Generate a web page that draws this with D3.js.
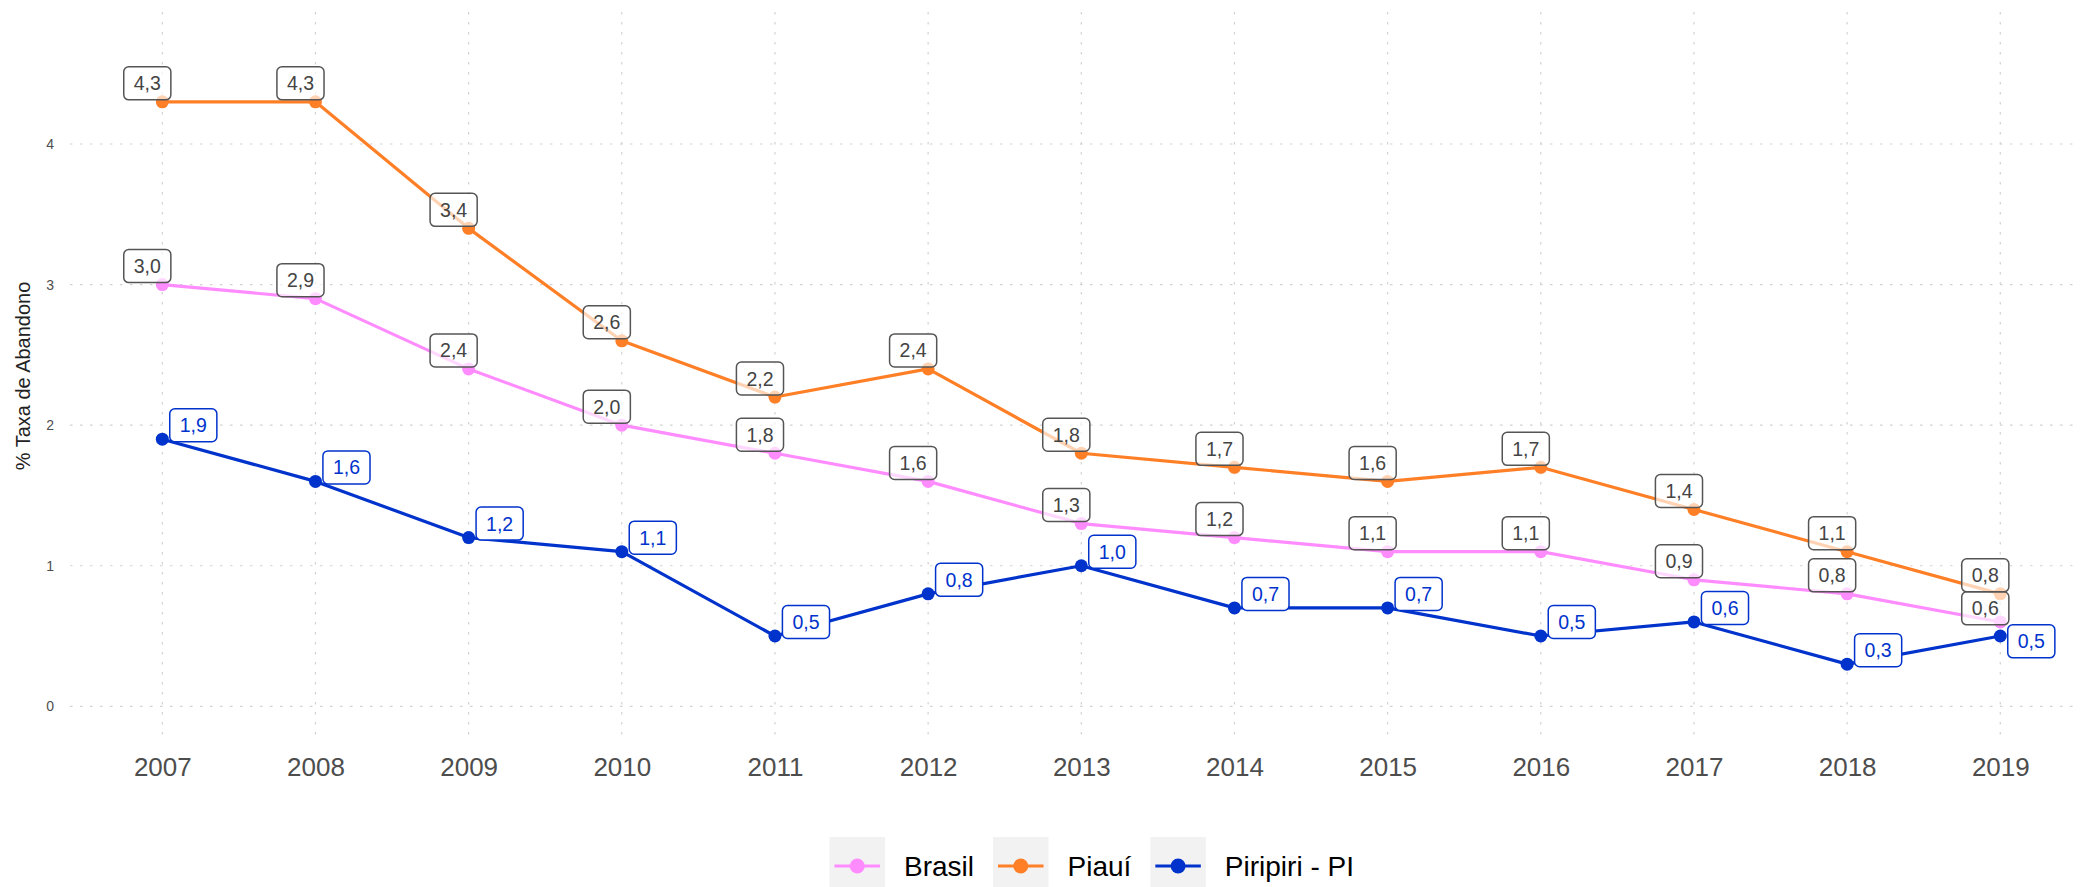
<!DOCTYPE html>
<html>
<head>
<meta charset="utf-8">
<script src="https://cdn.jsdelivr.net/npm/d3@7"></script>
<style>
  html, body { margin: 0; padding: 0; background: #ffffff; }
  svg { display: block; font-family: "Liberation Sans", Arial, Helvetica, sans-serif; }
</style>
</head>
<body>
<svg id="chart" width="2080" height="887"></svg>
<script>
// Taxa de abandono escolar (%) — Brasil, Piauí e Piripiri - PI
const years = [2007, 2008, 2009, 2010, 2011, 2012, 2013, 2014, 2015, 2016, 2017, 2018, 2019];
const brasil   = [3.0, 2.9, 2.4, 2.0, 1.8, 1.6, 1.3, 1.2, 1.1, 1.1, 0.9, 0.8, 0.6];
const piaui    = [4.3, 4.3, 3.4, 2.6, 2.2, 2.4, 1.8, 1.7, 1.6, 1.7, 1.4, 1.1, 0.8];
const piripiri = [1.9, 1.6, 1.2, 1.1, 0.5, 0.8, 1.0, 0.7, 0.7, 0.5, 0.6, 0.3, 0.5];
const seriesNames = ["Brasil", "Piauí", "Piripiri - PI"];
const yTicks = [0, 1, 2, 3, 4];
const yTitle = "% Taxa de Abandono";

const colors = { "Brasil": "#ff8cff", "Piauí": "#ff7f27", "Piripiri - PI": "#0033cc" };

const series = [
  { name: "Brasil", values: brasil, labelStyle: "plain" },
  { name: "Piauí", values: piaui, labelStyle: "plain" },
  { name: "Piripiri - PI", values: piripiri, labelStyle: "colored" }
];

const svg = d3.select("#chart");
const W = 2080, H = 887;
const panel = { left: 70, right: 2092, top: 12, bottom: 740 };

const x = d3.scaleLinear().domain([2007, 2019]).range([162.3, 2000.3]);
const y = d3.scaleLinear().domain([0, 4]).range([706.3, 144]);

const fmt = v => d3.format(".1f")(v).replace(".", ",");

// dotted grid
const grid = svg.append("g").attr("class", "grid");
grid.selectAll("line.h").data(yTicks).join("line")
  .attr("class", "h")
  .attr("x1", panel.left).attr("x2", W)
  .attr("y1", d => y(d)).attr("y2", d => y(d))
  .attr("stroke", "#d2d2d2").attr("stroke-width", 1.2)
  .attr("stroke-dasharray", "2.5,7.5");
grid.selectAll("line.v").data(years).join("line")
  .attr("class", "v")
  .attr("x1", d => x(d)).attr("x2", d => x(d))
  .attr("y1", panel.top).attr("y2", panel.bottom)
  .attr("stroke", "#d2d2d2").attr("stroke-width", 1.2)
  .attr("stroke-dasharray", "2.5,7.5");

// y axis
const yAxis = svg.append("g")
  .attr("transform", `translate(${panel.left - 16},0)`)
  .call(d3.axisLeft(y).tickValues(yTicks).tickFormat(d3.format("d")).tickSize(0).tickPadding(0));
yAxis.select(".domain").remove();
yAxis.selectAll("text")
  .attr("font-size", 14).attr("fill", "#4d4d4d")
  .attr("font-family", "Liberation Sans, Arial, sans-serif");

// x axis
const xAxis = svg.append("g")
  .attr("transform", `translate(0,${panel.bottom + 17.5})`)
  .call(d3.axisBottom(x).tickValues(years).tickFormat(d3.format("d")).tickSize(0).tickPadding(0));
xAxis.select(".domain").remove();
xAxis.selectAll("text")
  .attr("font-size", 26).attr("fill", "#4d4d4d")
  .attr("font-family", "Liberation Sans, Arial, sans-serif");

// y title
svg.append("text")
  .attr("transform", `translate(30,${(panel.top + panel.bottom) / 2}) rotate(-90)`)
  .attr("text-anchor", "middle")
  .attr("font-size", 20).attr("fill", "#222")
  .text(yTitle);

// lines and points
const line = d3.line().x((d, i) => x(years[i])).y(d => y(d));
const marks = svg.append("g");
series.forEach(s => {
  marks.append("path")
    .datum(s.values)
    .attr("d", line)
    .attr("fill", "none")
    .attr("stroke", colors[s.name])
    .attr("stroke-width", 3.2)
    .attr("stroke-linejoin", "round");
});
series.forEach(s => {
  marks.selectAll(null).data(s.values).join("circle")
    .attr("cx", (d, i) => x(years[i]))
    .attr("cy", d => y(d))
    .attr("r", 6.5)
    .attr("fill", colors[s.name]);
});

// value labels
const fontSize = 19.5;
const boxH = 33;
const measure = svg.append("text").attr("font-size", fontSize).attr("visibility", "hidden");
function textWidth(t) { measure.text(t); return measure.node().getComputedTextLength(); }

const labels = [];
series.forEach(s => {
  s.values.forEach((v, i) => {
    const t = fmt(v);
    const w = textWidth(t) + 20;
    const px = x(years[i]), py = y(v);
    const dx = s.labelStyle === "plain" ? -15 : 31;
    const dy = s.labelStyle === "plain" ? -18.5 : -14;
    labels.push({ text: t, w, h: boxH, cx: px + dx, cy: py + dy, style: s.labelStyle, color: colors[s.name] });
  });
});
measure.remove();

// simple overlap removal: stack overlapping labels downward
const placed = [];
labels.slice().sort((a, b) => a.cy - b.cy).forEach(l => {
  let moved = true;
  while (moved) {
    moved = false;
    for (const p of placed) {
      const ox = Math.abs(l.cx - p.cx) < (l.w + p.w) / 2;
      const oy = Math.abs(l.cy - p.cy) < (l.h + p.h) / 2;
      if (ox && oy) {
        l.cy = p.cy + (l.h + p.h) / 2;
        moved = true;
      }
    }
  }
  placed.push(l);
});

const lab = svg.append("g").selectAll("g").data(labels).join("g")
  .attr("transform", d => `translate(${d.cx},${d.cy})`);
lab.append("rect")
  .attr("x", d => -d.w / 2).attr("y", d => -d.h / 2)
  .attr("width", d => d.w).attr("height", d => d.h)
  .attr("rx", 5).attr("ry", 5)
  .attr("fill", "#ffffff")
  .attr("fill-opacity", d => d.style === "plain" ? 0.65 : 1)
  .attr("stroke", d => d.style === "plain" ? "#555555" : d.color)
  .attr("stroke-width", 1.5);
lab.append("text")
  .attr("text-anchor", "middle")
  .attr("dy", "0.36em")
  .attr("font-size", fontSize)
  .attr("fill", d => d.style === "plain" ? "#444444" : d.color)
  .text(d => d.text);

// legend
const legend = svg.append("g");
let lx = 829.5;
const keyW = 55.5, keyH = 55.5, keyTop = 837, gap = 19;
seriesNames.forEach(name => {
  const g = legend.append("g").attr("transform", `translate(${lx},${keyTop})`);
  g.append("rect").attr("width", keyW).attr("height", keyH).attr("fill", "#f2f2f2");
  g.append("line").attr("x1", 5).attr("x2", keyW - 5)
    .attr("y1", 29).attr("y2", 29)
    .attr("stroke", colors[name]).attr("stroke-width", 3);
  g.append("circle").attr("cx", keyW / 2).attr("cy", 29).attr("r", 7.5).attr("fill", colors[name]);
  const t = g.append("text").attr("x", keyW + gap).attr("y", 39)
    .attr("font-size", 28).attr("fill", "#000").text(name);
  lx += keyW + gap + t.node().getComputedTextLength() + gap;
});
</script>
</body>
</html>
